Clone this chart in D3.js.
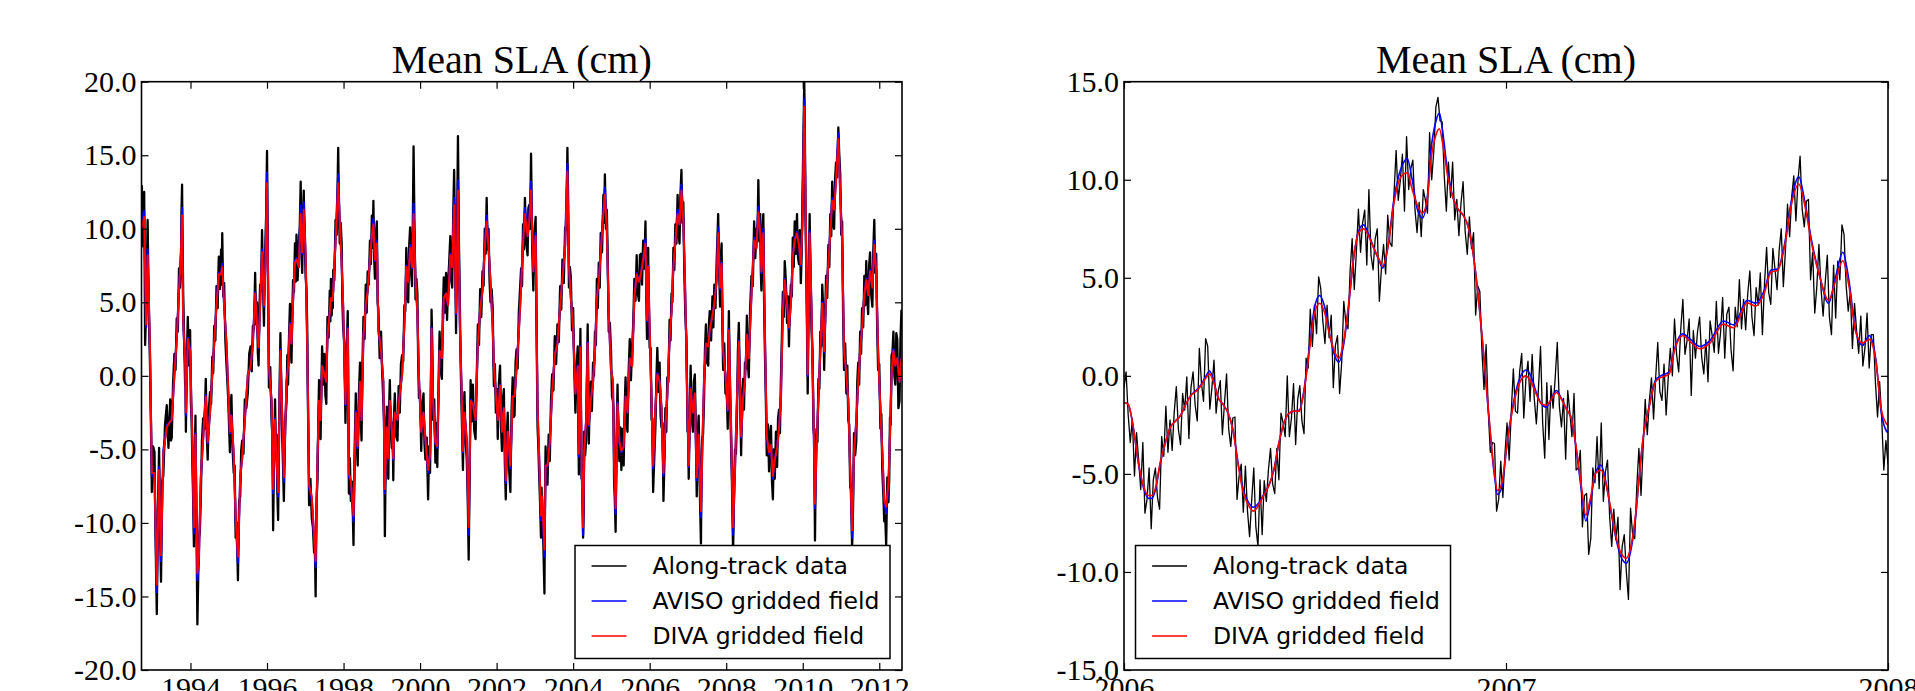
<!DOCTYPE html>
<html>
<head>
<meta charset="utf-8">
<script src="https://cdn.jsdelivr.net/npm/d3@7"></script>
<style>
  body { margin: 0; background: #fff; }
</style>
</head>
<body>
<div id="container"></div>
<script>
// ---- left panel: 1992-2012, DIVA / AVISO sampled at these decimal years
var leftYears = [
  1992.72,1992.74,1992.79,1992.84,1992.88,1992.94,1992.99,1993.06,1993.12,1993.18,
  1993.23,1993.29,1993.38,1993.47,1993.51,1993.58,1993.64,1993.70,1993.75,1993.78,
  1993.81,1993.86,1993.88,1993.93,1993.99,1994.01,1994.05,1994.09,1994.13,1994.18,
  1994.22,1994.27,1994.33,1994.40,1994.45,1994.51,1994.57,1994.62,1994.68,1994.74,
  1994.80,1994.83,1994.88,1994.94,1995.03,1995.07,1995.13,1995.18,1995.24,1995.30,
  1995.35,1995.42,1995.50,1995.57,1995.63,1995.69,1995.74,1995.78,1995.82,1995.87,
  1995.92,1995.96,1996.00,1996.05,1996.12,1996.16,1996.21,1996.25,1996.29,1996.35,
  1996.40,1996.44,1996.51,1996.55,1996.60,1996.64,1996.68,1996.73,1996.77,1996.83,
  1996.88,1996.92,1996.96,1997.01,1997.05,1997.10,1997.17,1997.23,1997.27,1997.32,
  1997.36,1997.40,1997.44,1997.50,1997.55,1997.58,1997.64,1997.67,1997.71,1997.73,
  1997.79,1997.86,1997.90,1997.95,1997.99,1998.05,1998.11,1998.14,1998.19,1998.26,
  1998.32,1998.37,1998.43,1998.47,1998.52,1998.58,1998.63,1998.69,1998.74,1998.78,
  1998.82,1998.87,1998.91,1998.98,1999.04,1999.08,1999.13,1999.17,1999.21,1999.26,
  1999.30,1999.34,1999.41,1999.47,1999.53,1999.59,1999.64,1999.69,1999.74,1999.79,
  1999.83,1999.88,1999.93,1999.97,2000.03,2000.09,2000.14,2000.21,2000.26,2000.30,
  2000.34,2000.40,2000.45,2000.51,2000.57,2000.62,2000.68,2000.73,2000.79,2000.84,
  2000.89,2000.94,2000.99,2001.04,2001.08,2001.12,2001.16,2001.22,2001.27,2001.32,
  2001.38,2001.45,2001.51,2001.57,2001.63,2001.69,2001.74,2001.79,2001.84,2001.90,
  2001.93,2001.98,2002.03,2002.09,2002.14,2002.19,2002.24,2002.29,2002.36,2002.42,
  2002.47,2002.52,2002.58,2002.64,2002.69,2002.74,2002.81,2002.85,2002.90,2002.96,
  2003.02,2003.07,2003.11,2003.16,2003.19,2003.25,2003.28,2003.33,2003.39,2003.45,
  2003.52,2003.59,2003.66,2003.72,2003.79,2003.85,2003.89,2003.94,2004.00,2004.06,
  2004.12,2004.15,2004.19,2004.22,2004.26,2004.29,2004.34,2004.38,2004.41,2004.46,
  2004.52,2004.57,2004.62,2004.67,2004.72,2004.79,2004.83,2004.88,2004.93,2004.99,
  2005.04,2005.07,2005.11,2005.16,2005.21,2005.26,2005.32,2005.37,2005.42,2005.48,
  2005.54,2005.60,2005.66,2005.72,2005.77,2005.83,2005.89,2005.93,2005.96,2006.00,
  2006.05,2006.09,2006.15,2006.20,2006.26,2006.31,2006.36,2006.41,2006.46,2006.52,
  2006.57,2006.62,2006.67,2006.73,2006.78,2006.83,2006.88,2006.93,2006.99,2007.02,
  2007.07,2007.13,2007.18,2007.23,2007.28,2007.34,2007.37,2007.42,2007.47,2007.53,
  2007.57,2007.64,2007.69,2007.75,2007.79,2007.84,2007.88,2007.92,2007.98,2008.04,
  2008.07,2008.12,2008.18,2008.23,2008.28,2008.33,2008.39,2008.44,2008.49,2008.54,
  2008.59,2008.66,2008.73,2008.79,2008.84,2008.89,2008.92,2008.97,2009.01,2009.06,
  2009.12,2009.17,2009.22,2009.27,2009.33,2009.38,2009.43,2009.48,2009.53,2009.59,
  2009.64,2009.69,2009.74,2009.79,2009.85,2009.90,2009.95,2009.99,2010.04,2010.07,
  2010.13,2010.18,2010.23,2010.28,2010.32,2010.36,2010.41,2010.46,2010.51,2010.56,
  2010.61,2010.67,2010.72,2010.77,2010.82,2010.87,2010.93,2010.98,2011.03,2011.08,
  2011.14,2011.19,2011.24,2011.29,2011.34,2011.40,2011.45,2011.50,2011.55,2011.61,
  2011.66,2011.71,2011.76,2011.82,2011.87,2011.92,2011.97,2012.03,2012.08,2012.13,
  2012.18,2012.24,2012.28,2012.32,2012.37,2012.42,2012.47,2012.53,2012.58
];

var leftDiva = [
  10.0,10.3,10.8,3.5,8.2,2.2,-6.6,-6.6,-14.2,-6.4,
  -12.2,-5.3,-3.5,-3.1,-3.0,0.1,2.5,5.8,8.2,10.9,
  3.8,0.9,-2.5,2.5,1.7,-0.4,-4.5,-10.3,-4.0,-13.4,
  -12.3,-6.9,-4.3,-1.4,-4.5,-2.5,0.1,2.2,4.8,6.9,
  6.9,7.4,4.8,2.2,-3.8,-2.7,-5.3,-9.5,-12.3,-6.9,
  -5.6,-3.0,0.1,0.6,2.2,5.6,3.5,1.95,4.8,8.4,
  4.8,7.7,13.1,0.65,-1.7,-7.7,-3.0,-5.6,-7.9,1.7,
  -3.0,-6.9,-0.4,0.65,3.5,2.2,5.1,7.7,7.9,7.4,
  11.0,8.4,11.3,8.2,2.2,-7.4,-8.2,-10.8,-12.6,-5.6,
  -1.7,-3.0,0.65,0.1,-0.4,2.7,4.3,5.3,5.1,5.8,
  9.0,13.1,10.5,7.7,4.8,-1.9,3.2,-6.6,-7.1,-9.5,
  -2.5,-4.8,-0.4,-3.0,2.7,4.8,5.8,7.9,9.5,10.3,
  7.9,9.0,3.2,1.7,-0.4,-7.7,-3.5,-5.6,-1.7,-3.5,
  -5.6,-2.5,-3.0,-1.2,0.1,3.5,7.4,6.4,8.7,7.4,
  11.0,6.6,4.3,-0.1,-3.8,-2.5,-4.3,-6.4,-5.3,3.2,
  -1.7,-4.5,-4.8,1.7,1.2,5.3,5.6,4.8,8.2,7.4,
  11.6,4.3,12.6,3.5,-0.4,-5.1,-2.5,-4.3,-10.3,-1.7,
  -1.9,-3.0,2.2,4.5,5.8,8.7,10.5,8.7,6.4,3.2,
  0.65,-1.2,-3.0,-0.65,-3.8,-2.2,-7.1,-3.8,-6.1,-1.4,
  -1.4,0.5,3.0,6.0,9.0,11.0,9.5,10.3,12.6,7.1,
  9.5,-2.2,-5.3,-9.5,-8.2,-11.8,-6.1,-6.1,-4.5,-1.2,
  1.4,2.2,4.8,6.6,8.7,13.9,7.4,5.3,3.2,-1.2,
  0.65,-5.3,1.95,-5.6,-10.3,-5.1,-3.0,2.2,-3.3,-1.7,
  -0.4,1.7,5.3,6.4,8.4,11.0,12.3,10.0,4.3,0.4,
  -0.4,-5.8,-9.0,-1.9,-4.5,-5.1,-4.8,-1.4,-2.5,1.2,
  0.65,5.3,6.9,6.4,6.9,7.9,9.0,3.8,7.4,3.2,
  -1.7,-6.1,-2.2,0.1,-0.4,-2.2,-6.6,-3.5,-1.4,2.5,
  4.3,7.4,9.0,11.0,10.3,12.6,10.5,5.6,-2.5,-6.1,
  -0.9,-2.5,-1.2,-6.9,-4.0,-9.2,-5.6,-0.4,2.2,2.0,
  3.1,4.1,4.9,6.5,9.7,6.0,7.6,1.7,0.1,-2.3,
  3.1,-2.5,-10.3,-6.3,-1.7,2.3,-4.1,-1.5,-0.4,2.8,
  1.2,5.5,9.2,8.7,11.1,9.7,7.1,9.7,3.1,-4.1,
  -5.2,-4.7,-6.8,-5.7,-4.9,-3.6,-1.5,4.4,6.5,4.9,
  3.3,4.9,8.1,9.2,9.7,8.9,7.6,10.3,18.3,12.4,
  0.1,9.7,4.4,-2.3,-8.7,-4.9,-1.5,1.7,4.9,1.7,
  5.5,7.6,9.7,11.9,11.3,13.2,16.1,12.4,9.2,1.7,
  0.1,-1.7,-6.3,-10.5,-5.2,-3.1,-0.4,1.7,3.3,5.5,
  6.5,5.5,7.1,6.0,8.9,7.1,1.7,-2.3,-5.2,-8.4,
  -8.9,-7.3,-4.1,0.1,1.7,0.7,1.2,-0.4,1.2
];

var leftAviso = [
  10.4,11.0,11.2,3.3,8.6,2.0,-6.8,-6.9,-14.7,-6.2,
  -12.6,-5.1,-3.4,-3.1,-3.0,0.1,2.5,5.9,8.4,11.4,
  3.6,0.8,-2.7,2.6,1.7,-0.4,-4.6,-10.7,-3.9,-13.9,
  -12.5,-7.0,-4.3,-1.3,-4.6,-2.5,0.1,2.2,4.9,7.0,
  7.0,7.6,4.8,2.2,-3.9,-2.7,-5.4,-9.8,-12.7,-6.9,
  -5.6,-3.0,0.1,0.6,2.2,5.7,3.4,1.9,4.9,8.6,
  4.7,7.9,13.8,0.5,-1.8,-8.0,-2.9,-5.7,-8.2,1.8,
  -3.1,-7.2,-0.4,0.7,3.6,2.2,5.1,7.8,8.0,7.4,
  11.6,8.3,11.8,8.1,2.1,-7.6,-8.4,-11.1,-13.0,-5.5,
  -1.7,-3.0,0.7,0.1,-0.4,2.7,4.3,5.3,5.1,5.8,
  9.2,13.7,10.6,7.7,4.7,-2.0,3.3,-6.8,-7.2,-9.9,
  -2.4,-4.9,-0.4,-3.0,2.7,4.8,5.8,8.0,9.6,10.7,
  7.8,9.2,3.1,1.7,-0.4,-8.0,-3.5,-5.7,-1.7,-3.5,
  -5.7,-2.5,-3.0,-1.2,0.1,3.5,7.5,6.4,8.9,7.3,
  11.7,6.5,4.3,-0.1,-3.8,-2.5,-4.4,-6.6,-5.3,3.3,
  -1.7,-4.6,-4.9,1.7,1.2,5.3,5.6,4.8,8.3,7.4,
  12.1,4.2,13.3,3.4,-0.4,-5.2,-2.5,-4.4,-10.8,-1.6,
  -1.9,-3.0,2.2,4.5,5.8,8.8,10.9,8.7,6.4,3.2,
  0.6,-1.2,-3.0,-0.6,-3.8,-2.2,-7.3,-3.8,-6.3,-1.4,
  -1.4,0.5,3.0,6.1,9.2,11.4,9.5,10.5,13.2,7.1,
  9.7,-2.3,-5.4,-9.8,-8.4,-12.3,-6.1,-6.2,-4.5,-1.2,
  1.4,2.2,4.8,6.6,8.9,14.4,7.3,5.3,3.2,-1.2,
  0.7,-5.5,2.0,-5.8,-10.8,-5.1,-3.0,2.3,-3.4,-1.7,
  -0.4,1.7,5.3,6.4,8.5,11.3,12.8,10.0,4.2,0.4,
  -0.4,-5.9,-9.4,-1.8,-4.6,-5.2,-4.8,-1.4,-2.5,1.2,
  0.7,5.3,7.0,6.4,7.0,7.9,9.3,3.7,7.5,3.1,
  -1.7,-6.3,-2.2,0.2,-0.3,-2.2,-6.8,-3.5,-1.4,2.6,
  4.4,7.5,9.1,11.3,10.3,13.0,10.6,5.6,-2.6,-6.2,
  -0.8,-2.5,-1.2,-7.1,-4.0,-9.6,-5.6,-0.4,2.2,2.0,
  3.1,4.1,4.9,6.6,10.1,5.9,7.7,1.6,0.1,-2.4,
  3.2,-2.6,-10.8,-6.3,-1.7,2.4,-4.2,-1.5,-0.4,2.8,
  1.2,5.5,9.4,8.7,11.5,9.7,7.0,10.0,3.0,-4.2,
  -5.3,-4.7,-7.0,-5.7,-4.9,-3.6,-1.5,4.5,6.6,4.9,
  3.2,4.9,8.2,9.3,9.8,8.9,7.5,10.4,18.8,12.5,
  0.0,9.9,4.4,-2.4,-9.0,-4.9,-1.5,1.7,5.0,1.6,
  5.5,7.7,9.8,12.1,11.3,13.5,16.5,12.4,9.1,1.6,
  0.1,-1.7,-6.4,-11.0,-5.2,-3.1,-0.4,1.7,3.3,5.5,
  6.6,5.5,7.2,6.0,9.2,7.1,1.6,-2.3,-5.3,-8.6,
  -9.3,-7.4,-4.1,0.1,1.8,0.7,1.2,-0.4,1.2
];

// along-track means: one value at each leftYears date and one between consecutive dates
var leftTrack = [
  11.5,12.9,8.8,11.9,12.5,2.1,4.6,7.0,10.6,4.2,
  1.1,-3.0,-7.9,-4.8,-5.2,-11.5,-16.2,-9.0,-4.9,-10.1,
  -14.0,-7.2,-6.8,-3.3,-2.0,-4.9,-1.6,-4.4,-4.2,-0.5,
  1.5,0.4,3.9,3.0,7.3,6.0,7.1,11.2,13.0,8.7,
  5.5,2.4,-0.6,0.5,-3.8,1.2,4.0,0.7,3.1,0.6,
  -1.8,-3.0,-6.0,-8.4,-11.6,-6.1,-2.7,-9.8,-16.9,-14.0,
  -11.0,-10.6,-8.3,-4.4,-2.9,-3.6,-0.2,-4.0,-5.7,-2.3,
  -1.1,-1.9,1.3,0.2,3.4,2.4,6.1,4.6,8.1,5.9,
  8.6,6.2,9.7,5.4,6.3,2.5,0.8,-1.5,-5.2,-2.0,
  -1.3,-4.9,-6.6,-6.1,-11.0,-10.0,-13.9,-8.6,-8.2,-5.1,
  -4.4,-5.3,-1.6,-2.2,-1.1,1.5,2.0,0.3,3.4,3.2,
  7.0,3.5,5.0,1.6,0.7,4.4,6.2,5.8,9.9,6.3,
  3.4,7.5,9.2,11.2,15.3,6.4,-0.8,0.6,-3.1,-4.0,
  -10.5,-4.9,-1.6,-5.5,-4.0,-7.9,-9.8,-2.6,2.9,-1.2,
  -4.4,-6.3,-8.5,-3.2,-1.8,1.4,-0.6,2.6,4.9,2.0,
  0.9,4.3,6.5,5.7,9.0,6.4,9.6,6.5,8.9,10.1,
  13.2,8.3,7.0,10.9,12.6,9.1,6.7,5.9,3.4,-2.9,
  -8.8,-7.0,-9.7,-10.3,-12.0,-11.3,-15.0,-8.4,-7.0,-3.1,
  -0.3,-3.5,-4.3,-0.8,2.0,-0.6,1.5,-1.3,-1.9,1.6,
  4.0,2.6,5.8,3.7,6.6,4.1,6.5,4.6,7.2,6.5,
  10.6,9.6,15.5,11.4,9.0,10.4,9.1,5.0,3.3,2.3,
  -3.2,1.5,4.4,-1.9,-8.0,-5.6,-8.5,-7.2,-11.5,-5.0,
  -1.2,-4.6,-6.1,-1.3,0.9,-2.9,-4.4,0.8,4.0,2.5,
  6.2,4.3,7.1,6.2,9.2,7.6,10.9,8.7,11.9,8.0,
  6.6,9.6,10.5,5.0,4.5,1.2,3.0,0.2,-1.7,-3.0,
  -10.9,-5.0,-2.1,-5.9,-7.0,-2.3,-0.3,-3.9,-4.9,-3.2,
  -7.1,-2.6,-1.2,-4.1,-4.4,-0.7,-2.5,0.8,1.4,1.0,
  4.8,4.4,8.7,5.6,5.0,8.8,10.1,7.0,6.1,10.3,
  15.6,9.9,5.2,6.6,5.6,1.0,-1.5,-1.0,-5.1,-2.0,
  -1.2,-4.6,-5.7,-4.2,-8.4,-4.8,-6.6,-2.0,4.5,2.1,
  -3.0,-1.6,-5.9,-3.2,-6.2,-0.9,3.0,0.3,-0.2,4.4,
  6.7,4.3,7.0,3.8,6.1,7.7,9.5,6.5,6.0,10.8,
  14.0,8.9,2.9,9.3,16.3,9.2,4.8,0.9,-1.7,-3.9,
  -6.4,-2.6,-1.1,-4.4,-5.7,-8.2,-12.5,-6.9,-0.3,-3.1,
  -0.6,-3.7,-4.3,-0.1,3.5,2.1,5.9,4.0,7.1,6.1,
  10.0,8.3,12.1,8.6,10.0,6.5,5.0,5.9,4.5,1.0,
  -0.7,0.8,-2.5,-0.9,-4.3,-0.5,0.7,-3.4,-5.1,-1.6,
  -0.9,-5.9,-8.4,-4.3,-2.5,-6.3,-7.9,-2.5,-0.1,-2.8,
  -2.7,0.9,1.8,0.5,4.3,5.8,7.3,6.1,10.3,8.6,
  12.1,9.0,8.2,11.4,11.6,10.0,15.1,8.6,5.8,9.7,
  10.8,3.0,-3.5,-4.7,-6.6,-8.6,-11.0,-7.6,-9.5,-11.3,
  -14.8,-7.9,-4.8,-7.4,-7.4,-4.0,-5.8,-1.8,0.1,-1.0,
  2.7,0.8,3.5,2.3,6.1,4.5,7.9,6.3,10.1,9.9,
  15.5,11.8,6.0,7.4,6.7,3.1,4.6,0.4,-2.5,0.6,
  2.0,-3.4,-6.7,-0.9,3.2,-2.7,-7.0,-7.0,-11.0,-9.3,
  -3.8,-5.4,-4.3,-0.2,3.5,-1.1,-4.6,-1.2,-0.4,-2.4,
  0.9,0.0,3.0,2.1,6.6,4.6,7.7,6.0,9.7,8.4,
  12.3,10.4,13.7,10.0,11.3,7.9,3.0,3.6,1.7,-1.4,
  -1.7,-2.2,-7.1,-8.5,-10.6,-4.2,-0.6,-4.6,-5.8,-3.5,
  -6.4,-3.6,-6.1,-2.4,-0.1,-3.1,-3.8,0.3,2.5,-0.3,
  1.9,3.5,6.6,5.1,8.2,5.6,5.1,8.2,8.3,6.2,
  9.2,7.3,10.5,5.7,2.5,6.8,8.7,4.0,1.9,1.9,
  -3.0,-2.9,-7.9,-5.6,-3.5,-0.3,1.9,-1.1,0.9,-2.7,
  -3.5,-3.2,-8.5,-5.9,-2.2,-3.8,-0.1,-0.4,3.8,2.4,
  5.6,5.0,8.7,7.2,10.3,9.0,12.3,9.7,9.0,12.4,
  14.0,10.4,11.8,7.0,4.3,2.6,-3.8,-3.1,-7.0,-3.1,
  0.7,-2.8,-3.8,-0.4,0.1,-3.6,-8.2,-4.2,-2.7,-7.8,
  -11.4,-6.2,-4.3,-4.0,-1.7,1.8,3.5,0.9,0.7,3.6,
  4.4,2.4,5.4,3.3,6.2,4.6,7.8,9.3,11.0,7.2,
  4.7,8.1,9.0,3.4,0.4,2.2,-1.2,-0.6,-3.6,1.9,
  4.4,-0.9,-3.8,-7.2,-12.0,-7.5,-5.0,-5.3,-3.0,1.6,
  3.6,-0.9,-5.4,-1.5,-0.2,-2.3,0.9,0.5,4.1,0.9,
  -0.1,4.6,6.8,6.1,10.5,8.0,10.0,9.1,13.3,9.2,
  11.0,7.1,5.8,9.6,11.0,5.0,1.8,-1.5,-5.4,-3.3,
  -6.5,-4.0,-3.4,-7.1,-8.4,-5.0,-7.0,-3.8,-6.2,-2.9,
  -2.3,-3.9,-0.2,2.6,5.7,4.0,7.8,6.4,3.6,5.4,
  2.0,4.8,6.2,5.4,9.4,7.4,10.5,8.3,11.0,8.1,
  7.6,9.9,6.3,8.1,11.6,15.8,20.0,16.9,11.1,5.9,
  -1.2,5.6,11.0,6.5,3.1,1.7,-3.6,-4.1,-11.2,-6.0,
  -3.6,-4.5,-0.2,-0.9,3.0,2.0,6.2,4.6,0.4,3.8,
  6.8,5.3,8.9,7.4,11.0,9.5,13.2,10.3,10.0,13.4,
  14.5,13.5,16.9,15.0,13.7,9.6,10.5,4.2,0.4,2.2,
  -1.2,0.7,-3.0,-3.3,-7.6,-7.4,-11.8,-9.0,-3.9,-5.4,
  -4.4,-0.4,0.9,-0.6,3.0,1.5,4.6,3.3,6.8,4.8,
  7.8,5.4,4.2,7.5,8.4,5.5,4.7,8.6,10.6,7.0,
  8.3,3.2,0.4,0.8,-3.6,-2.6,-6.5,-8.0,-9.9,-9.5,
  -11.5,-6.9,-8.6,-7.0,-2.8,-3.3,1.4,1.6,3.0,0.0,
  -0.6,2.9,2.5,-2.2,-1.7,2.6,
  4.5
];

// ---- right panel: 2006-2007, gridded fields at these day offsets from 2006-01-01
var rightDays = [
  0,4,8.8,13.7,18.6,23.4,26.6,29.9,34.7,39.6,
  44.4,49.3,54.2,59,63.9,68.7,73.6,78.4,81.7,84.9,
  89.8,94.6,99.5,104.3,109.2,114,118.9,123.8,128.6,133.5,
  138.3,143.2,148.1,152.9,157.8,162.6,167.5,172.3,177.2,182.1,
  186.9,191.8,196.6,201.5,205.4,209.6,214.5,219.4,224.2,229,
  233.9,238.8,243.6,247,252.8,257.6,262.5,267.4,270.6,275.4,
  280.3,285.2,290,293.3,298.1,301.4,304.6,309.5,314.3,319.2,
  324,328.9,333.7,338.6,343.4,348.3,353.2,357,361.3,366.1,
  371,375.8,380.7,383.9,388.8,393.6,398.5,403.4,408.2,413.1,
  417.9,422.8,427.6,432.5,437.4,441.2,445.4,450.3,455.8,460,
  464.9,469.7,474.6,480.1,484.3,489.2,492,496.7,501.6,508.1,
  512.9,521,525.9,534,540.4,550.2,559.9,572.8,582.5,595.5,
  603.6,611.7,618.2,624.6,631.1,637.6,644.7,650.5,657,665.1,
  673.2,679.7,686.8,692.6,699.1,705.6,712.1,718.5,723.4,728.3,
  730
];

var rightDiva = [
  -1.36,-1.45,-2.6,-4.4,-5.6,-6.1,-6.1,-5.75,-4.4,-3.4,
  -2.6,-2.3,-2.0,-1.45,-1.0,-0.8,-0.5,-0.1,0.1,-0.2,
  -1.1,-1.45,-1.9,-2.8,-4.6,-5.95,-6.6,-6.9,-6.6,-6.1,
  -5.6,-4.8,-3.4,-2.4,-1.9,-1.8,-1.8,-0.7,1.3,3.2,
  3.7,3.2,2.05,1.2,0.9,1.7,3.6,6.0,7.3,7.5,
  7.1,6.5,5.95,5.6,6.75,8.7,9.9,10.3,10.36,9.5,
  8.7,8.3,9.1,11.0,12.3,12.6,11.8,10.1,9.1,8.5,
  8.2,7.6,6.2,4.0,1.3,-1.8,-4.6,-5.85,-5.4,-3.4,
  -1.8,-0.7,-0.1,0.0,-0.3,-0.9,-1.4,-1.5,-1.2,-0.85,
  -1.2,-1.7,-2.2,-3.8,-5.75,-7.1,-6.3,-5.0,-4.8,-5.4,
  -6.7,-8.1,-9.0,-9.3,-8.7,-6.9,-5.3,-2.9,-1.65,-0.28,
  -0.09,0.1,1.27,2.06,1.77,1.38,1.67,2.64,2.45,3.72,
  3.56,4.2,5.28,5.38,6.55,8.7,9.78,8.7,6.75,5.0,
  3.86,4.8,5.87,4.6,2.26,1.67,1.86,0.7,-1.65,-2.43,
  -2.5
];

var rightAviso = [
  -1.36,-1.45,-2.6,-4.45,-5.7,-6.25,-6.25,-5.85,-4.45,-3.4,
  -2.6,-2.3,-2.0,-1.45,-1.0,-0.75,-0.45,0.0,0.25,-0.1,
  -1.1,-1.45,-1.9,-2.8,-4.5,-5.8,-6.45,-6.7,-6.5,-6.05,
  -5.6,-4.8,-3.4,-2.4,-1.9,-1.8,-1.75,-0.6,1.5,3.5,
  4.1,3.5,2.1,1.0,0.7,1.5,3.5,6.0,7.4,7.7,
  7.2,6.5,5.9,5.5,6.8,8.9,10.2,10.9,11.1,10.0,
  8.5,8.05,9.2,11.5,13.0,13.4,12.4,10.3,9.1,8.5,
  8.2,7.6,6.2,4.0,1.2,-1.9,-4.75,-6.05,-5.6,-3.4,
  -1.7,-0.5,0.15,0.3,0.0,-0.8,-1.4,-1.6,-1.2,-0.75,
  -1.15,-1.7,-2.2,-3.9,-6.0,-7.4,-6.5,-5.0,-4.55,-5.3,
  -6.8,-8.2,-9.2,-9.55,-8.9,-7.0,-5.3,-2.9,-1.6,-0.2,
  0.0,0.2,1.35,2.15,1.9,1.5,1.8,2.8,2.6,3.85,
  3.7,4.35,5.4,5.45,6.7,8.9,10.15,8.9,6.9,5.0,
  3.7,5.0,6.3,4.9,2.3,1.55,2.05,0.8,-1.8,-2.8,
  -2.9
];

// along-track data every 2 days from 2006-01-01
var rightTrack = [
  -0.6,0.2,-2.0,-3.4,-2.2, -5.1,-2.9,-4.3,-5.8,-3.4,
  -7.0,-6.3,-4.7,-7.8,-5.3, -4.7,-6.2,-6.8,-3.1,-4.1,
  -1.55,-3.9,-2.25,-3.8,-1.85, -0.55,-2.75,-3.5,-0.9,-1.75,
  -0.05,-3.2,-0.6,0.2,-1.5, -2.3,1.4,-0.35,-1.3,1.9,
  1.5,-1.7,-0.6,0.8,-1.9, -0.8,-0.25,-3.0,-1.4,0.1,
  -2.7,-3.6,-2.15,-2.1,-6.3, -5.1,-4.5,-6.95,-4.6,-6.9,
  -8.2,-6.35,-4.7,-7.7,-8.7, -5.3,-8.1,-5.35,-6.4,-4.8,
  -3.7,-5.5,-6.0,-3.7,-5.3, -1.9,-2.4,-3.1,0.0,-3.1,
  -2.15,-0.4,-3.5,-1.2,-0.5, -2.3,-2.95,0.9,0.4,3.4,
  1.5,3.6,2.15,5.05,4.45, 2.8,1.65,3.6,1.95,3.1,
  -0.6,1.55,2.05,-0.9,0.7, 3.8,2.7,2.4,5.3,7.0,
  4.4,6.3,8.5,6.3,7.8, 8.45,5.65,9.5,6.15,5.4,
  7.0,7.5,3.8,5.5,6.7, 5.2,8.2,6.8,6.6,9.3,
  11.5,8.95,9.95,11.3,8.4, 12.2,9.5,10.55,11.0,8.5,
  7.3,8.85,7.1,9.5,8.95, 8.3,12.4,10.0,11.45,13.7,
  14.2,13.0,12.95,10.2,8.4, 10.9,9.1,10.9,7.95,9.0,
  7.15,8.8,9.9,7.35,6.2, 8.1,6.5,7.3,3.1,4.6,
  4.3,1.3,-0.7,1.6,-1.7, -3.9,-3.4,-3.45,-6.9,-6.3,
  -4.35,-6.2,-4.0,-2.4,-4.3, -1.9,0.35,-1.8,-1.9,0.2,
  1.15,-2.15,-0.2,0.75,-1.3, 1.1,-1.15,-2.45,-0.65,1.5,
  -2.35,-4.2,-0.35,-3.25,-0.5, -1.65,-0.1,1.7,-1.55,-2.6,
  -1.15,-4.25,-0.75,-1.85,-3.1, -0.9,-4.8,-4.7,-3.8,-7.7,
  -6.1,-6.0,-9.1,-8.3,-4.7, -5.45,-3.1,-5.75,-2.4,-6.4,
  -4.9,-4.3,-7.15,-8.7,-6.8, -8.35,-7.2,-10.9,-8.7,-8.1,
  -10.0,-11.4,-6.75,-8.1,-8.3, -5.6,-3.7,-6.1,-3.7,-1.2,
  -3.0,-1.25,-0.1,-2.2,-0.1, 1.7,-0.8,-1.25,0.6,-2.0,
  -0.1,1.4,0.0,2.9,1.1, 0.2,2.4,3.9,1.1,1.8,
  2.9,-1.0,2.3,0.9,2.25, 3.0,0.95,0.1,1.85,-0.3,
  2.8,2.05,1.2,3.8,1.15, 2.2,4.0,0.9,3.15,3.5,
  1.35,0.25,3.5,2.5,4.9, 2.4,3.9,2.35,4.2,5.35,
  3.0,2.05,4.5,3.6,5.25, 2.1,4.7,6.55,4.25,3.65,
  6.5,5.45,4.4,6.4,7.5, 4.55,6.4,8.75,7.1,9.15,
  10.2,7.9,9.95,11.2,8.5, 7.6,8.9,9.0,4.9,6.3,
  3.2,4.55,6.7,4.45,3.05, 4.75,6.15,3.0,2.1,5.65,
  2.95,5.85,4.9,7.7,7.2, 4.6,3.3,4.3,1.4,3.7,
  2.3,1.15,3.05,0.5,1.45, 3.2,0.4,2.1,2.1,-0.35,
  -2.1,-0.3,-2.2,-4.8,-3.3,
  -4.5
];

var leftYTicks = [-20, -15, -10, -5, 0, 5, 10, 15, 20];
var rightYTicks = [-15, -10, -5, 0, 5, 10, 15];
var leftXTicks = [1994, 1996, 1998, 2000, 2002, 2004, 2006, 2008, 2010, 2012];
var rightXTicks = [2006, 2007, 2008];
var legendLabels = ['Along-track data', 'AVISO gridded field', 'DIVA gridded field'];
var legendColors = ['#000000', '#0000ff', '#ff0000'];

var w = 1915,
  h = 691;
var serif = '"Liberation Serif", "Times New Roman", Times, serif';
var sans = '"DejaVu Sans", "Bitstream Vera Sans", Verdana, sans-serif';

var svg = d3.select('#container').append('svg')
  .attr('width', w)
  .attr('height', h)
  .style('background', '#fff');

// build point lists
var leftTrackPts = leftTrack.map(function (v, j) {
  var k = Math.floor(j / 2);
  var t = j % 2 === 0 ? leftYears[k] : (leftYears[k] + leftYears[k + 1]) / 2;
  return [t, v];
}).filter(function (d) { return !isNaN(d[0]); });
var leftAvisoPts = leftYears.map(function (t, i) { return [t, leftAviso[i]]; });
var leftDivaPts = leftYears.map(function (t, i) { return [t, leftDiva[i]]; });

var rightTrackPts = rightTrack.map(function (v, j) { return [2006 + 2 * j / 365, v]; });
var rightAvisoPts = rightDays.map(function (d, i) { return [2006 + d / 365, rightAviso[i]]; });
var rightDivaPts = rightDays.map(function (d, i) { return [2006 + d / 365, rightDiva[i]]; });

function panel(cfg) {
  var x = d3.scaleLinear().domain(cfg.xDomain).range([cfg.left, cfg.right]);
  var y = d3.scaleLinear().domain(cfg.yDomain).range([cfg.bottom, cfg.top]);
  var g = svg.append('g').attr('id', cfg.id);

  g.append('clipPath').attr('id', cfg.id + '-clip')
    .append('rect')
    .attr('x', cfg.left).attr('y', cfg.top)
    .attr('width', cfg.right - cfg.left)
    .attr('height', cfg.bottom - cfg.top);

  var plot = g.append('g').attr('clip-path', 'url(#' + cfg.id + '-clip)');
  cfg.series.forEach(function (s) {
    var line = d3.line()
      .x(function (d) { return x(d[0]); })
      .y(function (d) { return y(d[1]); })
      .curve(s.curve || d3.curveLinear);
    plot.append('path')
      .datum(s.points)
      .attr('fill', 'none')
      .attr('stroke', s.color)
      .attr('stroke-width', s.width)
      .attr('stroke-linejoin', 'round')
      .attr('d', line);
  });

  var fmtY = function (d) { return d.toFixed(1); };
  var fmtX = function (d) { return String(d); };

  var axes = [
    g.append('g').attr('transform', 'translate(0,' + cfg.bottom + ')')
      .call(d3.axisBottom(x).tickValues(cfg.xTicks).tickFormat(fmtX)
        .tickSizeInner(-7).tickSizeOuter(0).tickPadding(7)),
    g.append('g').attr('transform', 'translate(0,' + cfg.top + ')')
      .call(d3.axisTop(x).tickValues(cfg.xTicks).tickFormat('')
        .tickSizeInner(-7).tickSizeOuter(0)),
    g.append('g').attr('transform', 'translate(' + cfg.left + ',0)')
      .call(d3.axisLeft(y).tickValues(cfg.yTicks).tickFormat(fmtY)
        .tickSizeInner(-7).tickSizeOuter(0).tickPadding(5)),
    g.append('g').attr('transform', 'translate(' + cfg.right + ',0)')
      .call(d3.axisRight(y).tickValues(cfg.yTicks).tickFormat('')
        .tickSizeInner(-7).tickSizeOuter(0))
  ];
  axes.forEach(function (a) {
    a.select('.domain').remove();
    a.selectAll('.tick line').attr('stroke', '#000').attr('stroke-width', 1.2);
    a.selectAll('.tick text')
      .attr('fill', '#000')
      .style('font-family', serif)
      .style('font-size', '30px');
  });

  g.append('rect')
    .attr('x', cfg.left).attr('y', cfg.top)
    .attr('width', cfg.right - cfg.left)
    .attr('height', cfg.bottom - cfg.top)
    .attr('fill', 'none')
    .attr('stroke', '#000')
    .attr('stroke-width', 1.6);

  g.append('text')
    .attr('x', (cfg.left + cfg.right) / 2)
    .attr('y', 73)
    .attr('text-anchor', 'middle')
    .style('font-family', serif)
    .style('font-size', '40px')
    .attr('fill', '#000')
    .text('Mean SLA (cm)');

  // legend
  var lw = 315, lh = 113;
  var lx = cfg.legendSide === 'right' ? cfg.right - 12 - lw : cfg.left + 11.5;
  var ly = cfg.bottom - 11.5 - lh;
  var leg = g.append('g').attr('transform', 'translate(' + lx + ',' + ly + ')');
  leg.append('rect')
    .attr('width', lw).attr('height', lh)
    .attr('fill', '#fff')
    .attr('stroke', '#000')
    .attr('stroke-width', 1.5);
  legendLabels.forEach(function (label, i) {
    var yy = 20.5 + i * 35;
    leg.append('line')
      .attr('x1', 16.6).attr('x2', 51.5)
      .attr('y1', yy).attr('y2', yy)
      .attr('stroke', legendColors[i])
      .attr('stroke-width', 1.6);
    leg.append('text')
      .attr('x', 77.5).attr('y', yy)
      .attr('dy', '0.36em')
      .style('font-family', sans)
      .style('font-size', '23.5px')
      .attr('fill', '#000')
      .text(label);
  });
}

panel({
  id: 'left',
  left: 141.5, right: 902, top: 81.7, bottom: 670,
  xDomain: [1992.72, 2012.594],
  yDomain: [-20, 20],
  xTicks: leftXTicks,
  yTicks: leftYTicks,
  legendSide: 'right',
  series: [
    { points: leftTrackPts, color: '#000000', width: 2.3 },
    { points: leftAvisoPts, color: '#0000ff', width: 2.2 },
    { points: leftDivaPts, color: '#ff0000', width: 2.0 }
  ]
});

panel({
  id: 'right',
  left: 1124, right: 1888, top: 81.7, bottom: 670,
  xDomain: [2006, 2008],
  yDomain: [-15, 15],
  xTicks: rightXTicks,
  yTicks: rightYTicks,
  legendSide: 'left',
  series: [
    { points: rightTrackPts, color: '#000000', width: 1.3 },
    { points: rightAvisoPts, color: '#0000ff', width: 1.6, curve: d3.curveMonotoneX },
    { points: rightDivaPts, color: '#ff0000', width: 1.6, curve: d3.curveMonotoneX }
  ]
});
</script>
</body>
</html>
